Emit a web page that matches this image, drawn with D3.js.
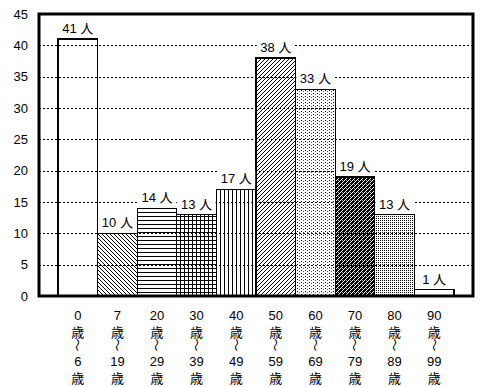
<!DOCTYPE html>
<html>
<head>
<meta charset="utf-8">
<script src="https://cdn.jsdelivr.net/npm/d3@7"></script>
<style>
  body { margin: 0; background: #fff; }
  text { font-family: "Liberation Sans", "Noto Sans CJK JP", sans-serif; }
</style>
</head>
<body>
<div id="chart"></div>
<script>
const startAges = ['0', '7', '20', '30', '40', '50', '60', '70', '80', '90'];
const endAges = ['6', '19', '29', '39', '49', '59', '69', '79', '89', '99'];
const counts = [41, 10, 14, 13, 17, 38, 33, 19, 13, 1];
const yTicks = [0, 5, 10, 15, 20, 25, 30, 35, 40, 45];
const patterns = ['none', 'diagBack', 'horiz', 'grid', 'vert', 'diagFwd', 'dotsSparse', 'checker', 'dotsFine', 'none'];

const width = 490;
const height = 387;
const frame = { left: 39, right: 473, top: 14, bottom: 296 };

const svg = d3
  .select('#chart')
  .append('svg')
  .attr('width', width)
  .attr('height', height)
  .style('background-color', '#fff');

/**
 * patterns for the bars
 */
const defs = svg.append('defs');

const pat = (id, w, h) =>
  defs.append('pattern')
    .attr('id', id)
    .attr('patternUnits', 'userSpaceOnUse')
    .attr('width', w)
    .attr('height', h);

const px = (sel, x, y, fill) =>
  sel.append('rect').attr('x', x).attr('y', y).attr('width', 1).attr('height', 1).attr('fill', fill || '#000');

let p = pat('diagBack', 4, 4);
p.append('rect').attr('width', 4).attr('height', 4).attr('fill', '#fff');
p.append('path').attr('d', 'M-1,-1 L5,5 M-1,3 L1,5 M3,-1 L5,1').attr('stroke', '#000').attr('stroke-width', 1);

p = pat('diagFwd', 4, 4);
p.append('rect').attr('width', 4).attr('height', 4).attr('fill', '#fff');
p.append('path').attr('d', 'M-1,5 L5,-1 M-1,1 L1,-1 M3,5 L5,3').attr('stroke', '#000').attr('stroke-width', 1);

p = pat('horiz', 4, 4);
p.append('rect').attr('width', 4).attr('height', 4).attr('fill', '#fff');
p.append('rect').attr('y', 0).attr('width', 4).attr('height', 1).attr('fill', '#000');

p = pat('vert', 4, 4);
p.append('rect').attr('width', 4).attr('height', 4).attr('fill', '#fff');
p.append('rect').attr('x', 0).attr('width', 1).attr('height', 4).attr('fill', '#000');

p = pat('grid', 4, 4);
p.append('rect').attr('width', 4).attr('height', 4).attr('fill', '#fff');
p.append('rect').attr('width', 4).attr('height', 1).attr('fill', '#000');
p.append('rect').attr('width', 1).attr('height', 4).attr('fill', '#000');

p = pat('dotsSparse', 4, 3);
p.append('rect').attr('width', 4).attr('height', 3).attr('fill', '#fff');
px(p, 1, 0);
px(p, 3, 1, '#555');

p = pat('checker', 4, 4);
p.append('rect').attr('width', 4).attr('height', 4).attr('fill', '#000');
px(p, 0, 0, '#fff');
px(p, 2, 2, '#fff');
px(p, 1, 3, '#fff');
px(p, 3, 1, '#fff');
px(p, 2, 0, '#aaa');

p = pat('dotsFine', 2, 2);
p.append('rect').attr('width', 2).attr('height', 2).attr('fill', '#fff');
px(p, 0, 0);

/**
 * scales
 */
const xScale = d3.scaleBand().domain(d3.range(counts.length)).range([58, 454]).padding(0);
const yScale = d3.scaleLinear().domain([0, 45]).range([frame.bottom, frame.top]);

// bars
svg.selectAll('rect.bar')
  .data(counts)
  .enter()
  .append('rect')
  .attr('class', 'bar')
  .attr('x', (d, i) => xScale(i))
  .attr('y', d => yScale(d))
  .attr('width', xScale.bandwidth())
  .attr('height', d => yScale(0) - yScale(d))
  .attr('fill', (d, i) => (patterns[i] === 'none' ? '#fff' : `url(#${patterns[i]})`))
  .attr('stroke', '#000')
  .attr('stroke-width', 1.3)
  .attr('shape-rendering', 'crispEdges');

// dotted gridlines drawn over the bars
svg.append('g')
  .selectAll('line')
  .data(yTicks.filter(t => t > 0 && t < 45))
  .enter()
  .append('line')
  .attr('x1', frame.left)
  .attr('x2', frame.right)
  .attr('y1', d => Math.round(yScale(d)) + 0.5)
  .attr('y2', d => Math.round(yScale(d)) + 0.5)
  .attr('stroke', '#000')
  .attr('stroke-width', 1)
  .attr('stroke-dasharray', '2,2');

// value labels with white background
const labels = svg.append('g').selectAll('g').data(counts).enter().append('g');
labels.append('rect')
  .attr('x', (d, i) => xScale(i) + xScale.bandwidth() / 2 - 19)
  .attr('y', d => yScale(d) - 19)
  .attr('width', 38)
  .attr('height', 16)
  .attr('fill', '#fff');
labels.append('text')
  .attr('x', (d, i) => xScale(i) + xScale.bandwidth() / 2)
  .attr('y', d => yScale(d) - 6)
  .attr('text-anchor', 'middle')
  .attr('font-size', 13)
  .text(d => `${d} 人`);

// frame
svg.append('rect')
  .attr('x', frame.left)
  .attr('y', frame.top)
  .attr('width', frame.right - frame.left)
  .attr('height', frame.bottom - frame.top)
  .attr('fill', 'none')
  .attr('stroke', '#000')
  .attr('stroke-width', 3);

// y axis tick labels
const yAxis = svg.append('g')
  .attr('transform', `translate(${frame.left},0)`)
  .call(d3.axisLeft(yScale).tickValues(yTicks).tickSize(0).tickPadding(11));
yAxis.select('.domain').remove();
yAxis.selectAll('text').attr('font-size', 13).attr('font-family', '"Liberation Sans", sans-serif').attr('fill', '#000');

// x labels, stacked vertically
const xl = svg.append('g').selectAll('g').data(startAges).enter().append('g')
  .attr('transform', (d, i) => `translate(${xScale(i) + xScale.bandwidth() / 2},0)`);
xl.append('text').attr('y', 320).attr('text-anchor', 'middle').attr('font-size', 13).text(d => d);
xl.append('text').attr('y', 337).attr('text-anchor', 'middle').attr('font-size', 13)
  .attr('font-family', '"Noto Sans CJK JP", sans-serif').text('歳');
xl.append('text').attr('transform', 'translate(0,345) rotate(90)').attr('text-anchor', 'middle')
  .attr('dy', '0.35em').attr('font-size', 13)
  .attr('font-family', '"Noto Sans CJK JP", sans-serif').text('〜');
xl.append('text').attr('y', 366).attr('text-anchor', 'middle').attr('font-size', 13).text((d, i) => endAges[i]);
xl.append('text').attr('y', 383).attr('text-anchor', 'middle').attr('font-size', 13)
  .attr('font-family', '"Noto Sans CJK JP", sans-serif').text('歳');
</script>
</body>
</html>
